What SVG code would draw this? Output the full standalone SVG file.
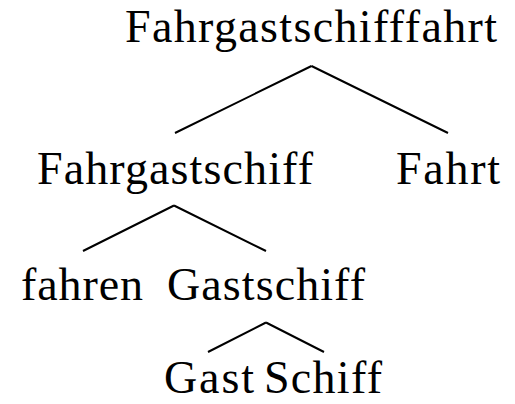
<svg xmlns="http://www.w3.org/2000/svg" width="515" height="404" viewBox="0 0 515 404">
<style>
text{font-family:"Liberation Serif","Times New Roman",serif;font-size:46px;fill:#000;text-anchor:middle}
.e{stroke:#000;stroke-width:2;fill:none;stroke-linecap:butt}
</style>
<rect width="515" height="404" fill="#fff"/>
<g id="connectors">
<path class="e" d="M311.5,66 L175,133 M311.5,66 L448,133"/>
<path class="e" d="M174,205.5 L83,251 M174,205.5 L266,251"/>
<path class="e" d="M266,322.5 L208,352 M266,322.5 L324,352"/>
</g>
<g id="n-root"><text x="311" y="42" textLength="372" lengthAdjust="spacing">Fahrgastschifffahrt</text></g>
<g id="n-fahrgastschiff"><text x="175" y="184" textLength="276" lengthAdjust="spacing">Fahrgastschiff</text></g>
<g id="n-fahrt"><text x="448" y="184" textLength="104" lengthAdjust="spacing">Fahrt</text></g>
<g id="n-fahren"><text x="82" y="300" textLength="122" lengthAdjust="spacing">fahren</text></g>
<g id="n-gastschiff"><text x="266" y="300" textLength="198" lengthAdjust="spacing">Gastschiff</text></g>
<g id="n-gast"><text x="209" y="393" textLength="90" lengthAdjust="spacing">Gast</text></g>
<g id="n-schiff"><text x="323" y="393" textLength="118" lengthAdjust="spacing">Schiff</text></g>
</svg>
